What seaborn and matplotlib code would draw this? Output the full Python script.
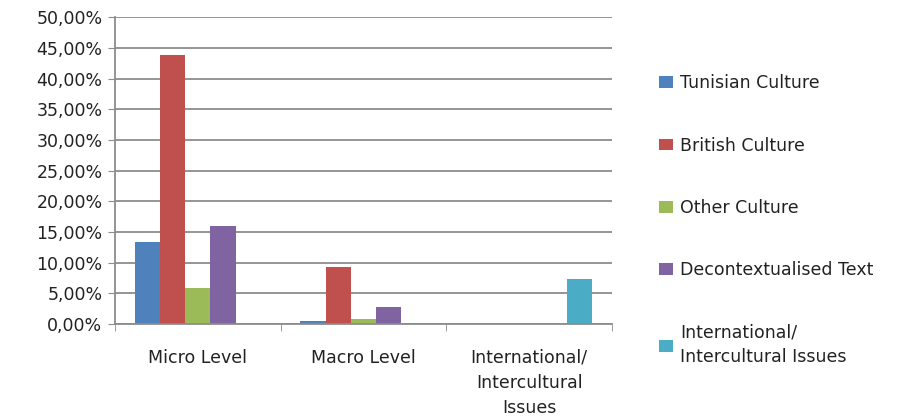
import pandas as pd
import matplotlib.pyplot as plt
import seaborn as sns
from matplotlib.ticker import FuncFormatter, FixedLocator

# -----------------------------
# Data (percent)
# -----------------------------
categories = ["Micro Level", "Macro Level", "International/\nIntercultural\nIssues"]
series = ["Tunisian Culture", "British Culture", "Other Culture",
          "Decontextualised Text", "International/\nIntercultural Issues"]
tunisian = [13.4, 0.5, 0.0]
british = [43.8, 9.3, 0.0]
other = [5.8, 0.8, 0.0]
decontext = [15.9, 2.8, 0.0]
international = [0.0, 0.0, 7.3]
colors = ["#4F81BD", "#C0504D", "#9BBB59", "#8064A2", "#4BACC6"]

rows = []
for name, vals in zip(series, [tunisian, british, other, decontext, international]):
    for cat, v in zip(categories, vals):
        rows.append({"category": cat, "series": name, "value": v})
df = pd.DataFrame(rows)

# -----------------------------
# Plot
# -----------------------------
sns.set_style("white")
plt.rcParams["font.family"] = ["DejaVu Sans"]

fig = plt.figure(figsize=(9.19, 4.19), dpi=100)
ax = fig.add_axes([0.125, 0.227, 0.541, 0.732])

sns.barplot(data=df, x="category", y="value", hue="series", order=categories,
            hue_order=series, palette=colors, width=0.76, saturation=1,
            linewidth=0, ax=ax, legend=True)

ax.set_ylim(0, 50)
ax.set_yticks(range(0, 51, 5))
ax.yaxis.set_major_formatter(FuncFormatter(lambda v, p: f"{v:.2f}%".replace(".", ",")))
ax.grid(axis="y", color="#8c8c8c", linewidth=1.3)
ax.set_axisbelow(True)
ax.set_xlim(-0.5, 2.5)
ax.set_xlabel("")
ax.set_ylabel("")

for s in ["top", "right"]:
    ax.spines[s].set_visible(False)
for s in ["left", "bottom"]:
    ax.spines[s].set_color("#8c8c8c")
    ax.spines[s].set_linewidth(1.3)

ax.tick_params(axis="y", left=True, length=5, color="#8c8c8c", labelsize=12.5,
               labelcolor="#222222", pad=4)
ax.tick_params(axis="x", which="major", length=0, labelsize=12.5,
               labelcolor="#222222", pad=18)
for lbl in ax.get_xticklabels():
    lbl.set_linespacing(1.5)
ax.xaxis.set_minor_locator(FixedLocator([-0.5, 0.5, 1.5, 2.5]))
ax.tick_params(axis="x", which="minor", bottom=True, length=5, color="#8c8c8c")

handles, labels = ax.get_legend_handles_labels()
ax.get_legend().remove()
leg = fig.legend(handles, labels, loc="center left", bbox_to_anchor=(0.70, 0.474),
                 frameon=False, fontsize=12.5, labelspacing=2.55, handlelength=0.8,
                 handleheight=0.65, handletextpad=0.4, labelcolor="#222222")
for t in leg.get_texts():
    t.set_linespacing(1.5)

fig.savefig("out.png", dpi=100)
